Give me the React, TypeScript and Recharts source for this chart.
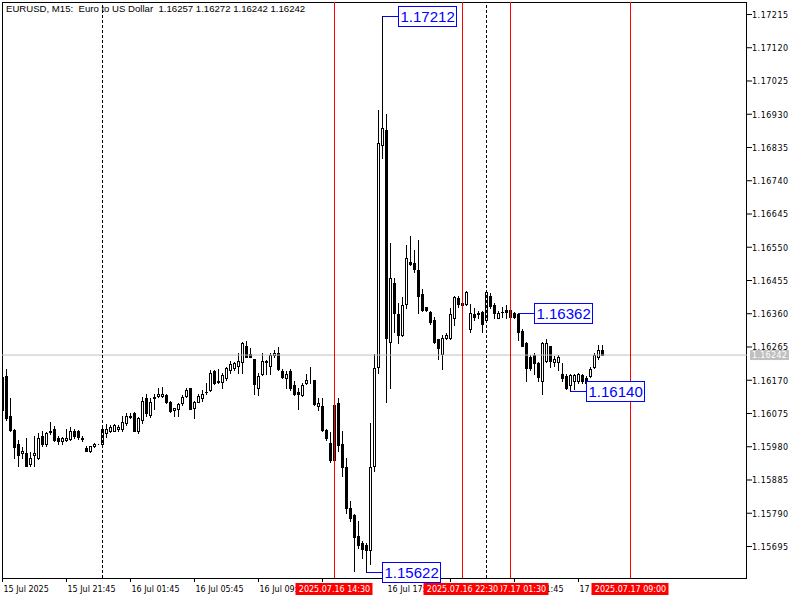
import { ComposedChart, Bar, XAxis, YAxis, ReferenceLine, ReferenceDot } from 'recharts';

// EURUSD M15 candles, oldest first (bar index 0 = 15 Jul 17:45)
const opens = [
  1.16178, 1.16181, 1.16067, 1.16029, 1.15989, 1.15961, 1.15961, 1.15932, 1.15955, 1.15949,
  1.16012, 1.15987, 1.16021, 1.16032, 1.16006, 1.15995, 1.15998, 1.16001, 1.16026, 1.16024,
  1.16006, 1.15975, 1.15969, 1.15981, 1.15987, 1.15989, 1.16018, 1.16026, 1.16024, 1.16032,
  1.16032, 1.16047, 1.16064, 1.16075, 1.16024, 1.16055, 1.16118, 1.16072, 1.16118, 1.16124,
  1.16124, 1.16127, 1.16107, 1.16084, 1.16087, 1.16104, 1.16124, 1.16147, 1.16092, 1.16109,
  1.16118, 1.16135, 1.16141, 1.16195, 1.16164, 1.16164, 1.16175, 1.16198, 1.16204, 1.16212,
  1.16221, 1.16269, 1.16244, 1.16232, 1.16149, 1.16187, 1.16224, 1.16212, 1.16241, 1.16249,
  1.16195, 1.16175, 1.16195, 1.16155, 1.16135, 1.16127, 1.16161, 1.16167, 1.16172, 1.16095,
  1.16095, 1.16029, 1.15992, 1.15941, 1.16104, 1.15989, 1.15921, 1.15804, 1.15784, 1.15726,
  1.15706, 1.15698, 1.15684, 1.15926, 1.16207, 1.16841, 1.16884, 1.16278, 1.16449, 1.16358,
  1.16298, 1.16389, 1.16509, 1.16504, 1.16486, 1.16415, 1.16378, 1.16366, 1.16341, 1.16287,
  1.16246, 1.16292, 1.16292, 1.16349, 1.16406, 1.16392, 1.16389, 1.16315, 1.16358, 1.16361,
  1.16364, 1.16341, 1.16412, 1.16384, 1.16349, 1.16366, 1.16372, 1.16372, 1.16361, 1.16358,
  1.16312, 1.16275, 1.16235, 1.16241, 1.16218, 1.16169, 1.16226, 1.16267, 1.16221, 1.16221,
  1.16189, 1.16181, 1.16155, 1.16169, 1.16169, 1.16184, 1.16175, 1.16181, 1.16207, 1.16235,
  1.16257,
];
const highs = [
  1.16192, 1.16201, 1.16118, 1.16032, 1.15998, 1.15978, 1.16006, 1.15964, 1.16012, 1.16018,
  1.16026, 1.16021, 1.16052, 1.16038, 1.16012, 1.16009, 1.16032, 1.16035, 1.16032, 1.16029,
  1.16012, 1.15981, 1.15981, 1.15992, 1.15989, 1.16041, 1.16044, 1.16041, 1.16044, 1.16041,
  1.16069, 1.16075, 1.16075, 1.16078, 1.16064, 1.16121, 1.16132, 1.16118, 1.16132, 1.16149,
  1.16152, 1.16132, 1.16112, 1.16092, 1.16104, 1.16127, 1.16149, 1.16147, 1.16112, 1.16132,
  1.16141, 1.16161, 1.16198, 1.16198, 1.16201, 1.16192, 1.16207, 1.16224, 1.16221, 1.16249,
  1.16278, 1.16281, 1.16261, 1.16232, 1.16192, 1.16247, 1.16227, 1.16249, 1.16255, 1.16264,
  1.16201, 1.16195, 1.16201, 1.16169, 1.16149, 1.16161, 1.16189, 1.16207, 1.16172, 1.16118,
  1.16118, 1.16032, 1.16021, 1.16101, 1.16118, 1.16026, 1.15947, 1.15826, 1.15789, 1.15769,
  1.15712, 1.15706, 1.16049, 1.16246, 1.16941, 1.17212, 1.16932, 1.16561, 1.16461, 1.16392,
  1.16409, 1.16555, 1.16581, 1.16541, 1.16572, 1.16432, 1.16378, 1.16369, 1.16352, 1.16289,
  1.16298, 1.16304, 1.16375, 1.16412, 1.16412, 1.16398, 1.16426, 1.16389, 1.16375, 1.16369,
  1.16369, 1.16424, 1.16418, 1.16392, 1.16369, 1.16378, 1.16384, 1.16378, 1.16366, 1.16362,
  1.16315, 1.16278, 1.16241, 1.16247, 1.16221, 1.16278, 1.16289, 1.16269, 1.16238, 1.16241,
  1.16218, 1.16189, 1.16189, 1.16189, 1.16192, 1.16189, 1.16181, 1.16207, 1.16247, 1.16272,
  1.16272,
];
const lows = [
  1.16078, 1.16055, 1.16024, 1.15949, 1.15926, 1.15949, 1.15924, 1.15926, 1.15926, 1.15946,
  1.15981, 1.15981, 1.16015, 1.15995, 1.15989, 1.15989, 1.15995, 1.15998, 1.16006, 1.16001,
  1.15995, 1.15969, 1.15966, 1.15978, 1.15987, 1.15987, 1.16009, 1.16021, 1.16024, 1.16026,
  1.16026, 1.16041, 1.16061, 1.16024, 1.16018, 1.16049, 1.16069, 1.16064, 1.16089, 1.16121,
  1.16121, 1.16104, 1.16078, 1.16069, 1.16069, 1.16098, 1.16121, 1.16087, 1.16061, 1.16107,
  1.16112, 1.16132, 1.16138, 1.16158, 1.16161, 1.16147, 1.16172, 1.16192, 1.16198, 1.16192,
  1.16192, 1.16235, 1.16235, 1.16132, 1.16127, 1.16184, 1.16189, 1.16189, 1.16235, 1.16198,
  1.16175, 1.16149, 1.16141, 1.16127, 1.16089, 1.16124, 1.16158, 1.16161, 1.16098, 1.16084,
  1.16026, 1.15998, 1.15935, 1.15935, 1.15969, 1.15895, 1.15792, 1.15769, 1.15626, 1.15692,
  1.15661, 1.15622, 1.15646, 1.15912, 1.16192, 1.16806, 1.16107, 1.16149, 1.16307, 1.16275,
  1.16295, 1.16375, 1.16498, 1.16478, 1.16361, 1.16369, 1.16369, 1.16332, 1.16275, 1.16232,
  1.16201, 1.16289, 1.16289, 1.16329, 1.16378, 1.16384, 1.16384, 1.16307, 1.16341, 1.16347,
  1.16307, 1.16338, 1.16375, 1.16349, 1.16349, 1.16352, 1.16349, 1.16349, 1.16347, 1.16284,
  1.16267, 1.16169, 1.16198, 1.16189, 1.16169, 1.16132, 1.16221, 1.16207, 1.16212, 1.16198,
  1.16169, 1.16144, 1.1614, 1.16144, 1.16161, 1.16161, 1.16155, 1.16178, 1.16204, 1.16232,
  1.16242,
];
const closes = [
  1.16084, 1.16061, 1.16029, 1.15978, 1.15955, 1.15969, 1.15926, 1.15949, 1.15961, 1.16006,
  1.15989, 1.16018, 1.16026, 1.15998, 1.15995, 1.16006, 1.16006, 1.16026, 1.16012, 1.16009,
  1.16001, 1.15969, 1.15981, 1.15989, 1.15989, 1.16032, 1.16032, 1.16035, 1.16041, 1.16035,
  1.16052, 1.16069, 1.16069, 1.16026, 1.16061, 1.16112, 1.16075, 1.16109, 1.16121, 1.16132,
  1.16132, 1.16107, 1.16081, 1.16092, 1.16101, 1.16121, 1.16141, 1.16089, 1.16107, 1.16124,
  1.16132, 1.16135, 1.16192, 1.16161, 1.16169, 1.16184, 1.16204, 1.16215, 1.16218, 1.16226,
  1.16275, 1.16235, 1.16235, 1.16158, 1.16181, 1.16224, 1.16221, 1.16241, 1.16249, 1.16201,
  1.16178, 1.16189, 1.16149, 1.1613, 1.1613, 1.16155, 1.16172, 1.16169, 1.16101, 1.16104,
  1.16029, 1.16004, 1.15941, 1.16098, 1.15984, 1.15921, 1.15806, 1.15775, 1.15721, 1.15698,
  1.15689, 1.15684, 1.15921, 1.16204, 1.16849, 1.16892, 1.16292, 1.16461, 1.16361, 1.16298,
  1.16386, 1.16518, 1.16501, 1.16489, 1.16412, 1.16372, 1.16372, 1.16335, 1.16278, 1.16261,
  1.16292, 1.16298, 1.16358, 1.16409, 1.16389, 1.16386, 1.16421, 1.16361, 1.16352, 1.16358,
  1.16332, 1.16421, 1.16381, 1.16361, 1.16361, 1.16366, 1.16366, 1.16352, 1.16352, 1.16307,
  1.16269, 1.16204, 1.16204, 1.16218, 1.16178, 1.16275, 1.16275, 1.16226, 1.16232, 1.16235,
  1.16175, 1.16149, 1.16184, 1.16184, 1.16189, 1.16167, 1.16161, 1.16201, 1.16241, 1.16255,
  1.16242,
];

const timeTicks = [0, 16, 32, 48, 64, 80, 96, 112, 128, 144];
const timeLabels = [
  '15 Jul 2025', '15 Jul 21:45', '16 Jul 01:45', '16 Jul 05:45', '16 Jul 09:45',
  '16 Jul 13:45', '16 Jul 17:45', '16 Jul 21:45', '17 Jul 01:45', '17 Jul 05:45',
];
const priceTicks = [
  1.17215, 1.1712, 1.17025, 1.1693, 1.16835, 1.1674, 1.16645, 1.1655, 1.16455,
  1.1636, 1.16265, 1.1617, 1.16075, 1.1598, 1.15885, 1.1579, 1.15695,
];
// vertical marks; tags are painted in this order (later ones on top)
const markBars = [157, 127, 115, 83];
const markLabels = ['2025.07.17 09:00', '2025.07.17 01:30', '2025.07.16 22:30', '2025.07.16 14:30'];
const separatorBars = [25, 121];
const extremeBars = [95, 91, 129, 142];
const extremePrices = [1.17212, 1.15622, 1.16362, 1.1614];

const FONT = '"DejaVu Sans", sans-serif';
const X_DOMAIN = [-0.125, 186.125];
const Y_DOMAIN = [1.15605, 1.1725071];

const data = opens.map((o, i) => ({
  i,
  open: o,
  high: highs[i],
  low: lows[i],
  close: closes[i],
  range: [lows[i], highs[i]],
}));

function Candle(props: any) {
  const { x, y, width, height, payload } = props;
  const { open, high, low, close } = payload;
  const cx = Math.floor(x + width / 2) + 0.5;
  const span = high - low;
  const py = (v: number) => (span > 0 ? y + ((high - v) / span) * height : y);
  const top = Math.round(py(Math.max(open, close)));
  const bot = Math.round(py(Math.min(open, close)));
  const hi = Math.round(py(high));
  const lo = Math.round(py(low));
  const up = close > open;
  return (
    <g>
      <line x1={cx} x2={cx} y1={hi} y2={lo + 1} stroke="#000" strokeWidth={1} />
      {up ? (
        <rect x={cx - 1} y={top + 0.5} width={2} height={Math.max(bot - top, 0)} fill="#fff" stroke="#000" strokeWidth={1} />
      ) : (
        <rect x={cx - 1.5} y={top} width={3} height={Math.max(bot - top + 1, 1)} fill="#000" />
      )}
    </g>
  );
}

function TimeTick({ x, payload }: any) {
  const k = timeTicks.indexOf(payload.value);
  return (
    <text x={x + 1} y={592} fontSize={8} fontFamily={FONT} fill="#000">
      {timeLabels[k]}
    </text>
  );
}

function TagTick({ x, payload }: any) {
  const k = markBars.indexOf(payload.value);
  const cx = Math.floor(x) + 0.5;
  return (
    <g>
      <rect x={cx - 39} y={583} width={77} height={12} fill="#ff0000" />
      <text x={cx} y={592} textAnchor="middle" fontSize={8} fontFamily={FONT} fill="#fff">
        {markLabels[k]}
      </text>
    </g>
  );
}

function PriceTick({ y, payload }: any) {
  return (
    <text x={752} y={y + 3.5} fontSize={8} letterSpacing={0.5} fontFamily={FONT} fill="#000">
      {payload.value.toFixed(5)}
    </text>
  );
}

function LastTick({ y, payload }: any) {
  return (
    <g>
      <rect x={750} y={y - 5} width={39} height={10} fill="#c0c0c0" />
      <text x={752} y={y + 3.3} fontSize={8} letterSpacing={0.3} fontFamily={FONT} fill="#fff">
        {payload.value.toFixed(5)}
      </text>
    </g>
  );
}

function PriceBox({ cx, cy, text }: any) {
  const px = Math.floor(cx) + 0.5;
  const bx = Math.floor(cx) + 16;
  const by = Math.round(cy);
  return (
    <g>
      <line x1={px} x2={bx} y1={by + 0.5} y2={by + 0.5} stroke="#0000ff" />
      <rect x={bx + 0.5} y={by - 9.5} width={58} height={20} fill="#fff" stroke="#0000ff" />
      <text x={bx + 2.5} y={by + 6} fontSize={15} fontFamily='"Liberation Sans", sans-serif' fill="#0000ff">
        {text}
      </text>
    </g>
  );
}

export default function App() {
  const last = data[data.length - 1];
  const header = `EURUSD, M15:  Euro to US Dollar  ${last.open.toFixed(5)} ${last.high.toFixed(5)} ${last.low.toFixed(5)} ${last.close.toFixed(5)}`;
  return (
    <div style={{ position: 'absolute', left: 0, top: 0, width: 800, height: 600, background: '#fff' }}>
      <div
        style={{
          position: 'absolute', left: 2, top: 2, width: 745, height: 577,
          border: '1px solid #000', boxSizing: 'border-box',
        }}
      />
      <div
        style={{
          position: 'absolute', left: 6, top: 3, fontSize: 9.6, lineHeight: '11px',
          fontFamily: '"Liberation Sans", sans-serif', whiteSpace: 'pre', color: '#000',
        }}
      >
        {header}
      </div>
      <div style={{ position: 'absolute', left: 0, top: 0 }}>
        <ComposedChart width={800} height={600} data={data} margin={{ top: 2, right: 0, bottom: 0, left: 2 }}>
          <XAxis
            dataKey="i"
            type="number"
            domain={X_DOMAIN}
            allowDataOverflow
            ticks={timeTicks}
            interval={0}
            height={21}
            axisLine={false}
            tickLine={{ stroke: '#000' }}
            tickSize={4}
            tick={<TimeTick />}
          />
          <YAxis
            orientation="right"
            type="number"
            domain={Y_DOMAIN}
            allowDataOverflow
            ticks={priceTicks}
            interval={0}
            width={52}
            axisLine={false}
            tickLine={{ stroke: '#000' }}
            tickSize={5}
            tick={<PriceTick />}
          />
          <XAxis
            xAxisId="tags"
            dataKey="i"
            type="number"
            domain={X_DOMAIN}
            allowDataOverflow
            ticks={markBars}
            interval={0}
            height={1}
            axisLine={false}
            tickLine={false}
            tick={<TagTick />}
          />
          <YAxis
            yAxisId="last"
            orientation="right"
            type="number"
            domain={Y_DOMAIN}
            allowDataOverflow
            ticks={[closes[closes.length - 1]]}
            interval={0}
            width={1}
            axisLine={false}
            tickLine={false}
            tick={<LastTick />}
          />
          <ReferenceLine y={last.close} stroke="#c0c0c0" />
          <Bar dataKey="range" barSize={3} shape={<Candle />} isAnimationActive={false} />
          {separatorBars.map((b) => (
            <ReferenceLine key={'s' + b} x={b} stroke="#000" strokeDasharray="3 2" />
          ))}
          {extremeBars.map((b, k) => (
            <ReferenceDot
              key={'e' + b}
              x={b}
              y={extremePrices[k]}
              shape={(p: any) => <PriceBox cx={p.cx} cy={p.cy} text={extremePrices[k].toFixed(5)} />}
            />
          ))}
          {markBars.map((b) => (
            <ReferenceLine key={'m' + b} x={b} stroke="#ff0000" />
          ))}
        </ComposedChart>
      </div>
    </div>
  );
}
